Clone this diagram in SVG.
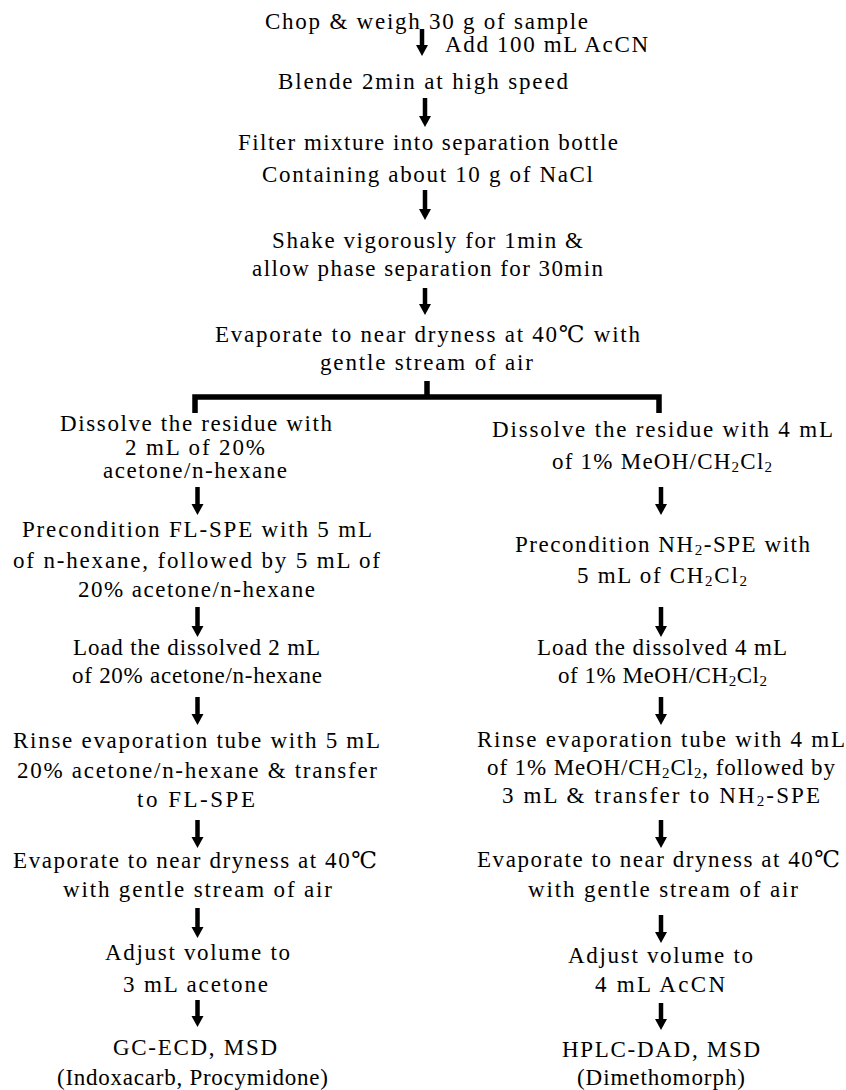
<svg xmlns="http://www.w3.org/2000/svg" width="846" height="1090" viewBox="0 0 846 1090">
<defs>
<style>
text { font-family: "Liberation Serif", "DejaVu Serif", "Noto Sans CJK KR", serif; font-size: 23px; fill: #000; }
.sub { font-size: 15px; }
.arrow { stroke: #000; stroke-width: 4.5; fill: none; marker-end: url(#ah); }
.branch { fill: none; stroke: #000; stroke-width: 5.5; stroke-linejoin: miter; }
</style>
<marker id="ah" markerUnits="userSpaceOnUse" viewBox="0 -6.5 11 13" markerWidth="11" markerHeight="13" refX="0" refY="0" orient="auto">
<path d="M0,-6 L11,0 L0,6 z" fill="#000"/>
</marker>
</defs>
<rect width="846" height="1090" fill="#fff"/>

<g id="connectors">
<line class="arrow" x1="422" y1="29" x2="422" y2="45"/>
<line class="arrow" x1="425" y1="98" x2="425" y2="116"/>
<line class="arrow" x1="425" y1="190" x2="425" y2="209"/>
<line class="arrow" x1="425" y1="288" x2="425" y2="304"/>
<path class="branch" d="M195,413 V397 H659 V413"/>
<path class="branch" d="M427,381 V397"/>
<line class="arrow" x1="197.5" y1="487" x2="197.5" y2="504"/>
<line class="arrow" x1="197.5" y1="607" x2="197.5" y2="626"/>
<line class="arrow" x1="197.5" y1="697" x2="197.5" y2="714"/>
<line class="arrow" x1="197.5" y1="820" x2="197.5" y2="837"/>
<line class="arrow" x1="197.5" y1="908" x2="197.5" y2="927"/>
<line class="arrow" x1="197.5" y1="1000" x2="197.5" y2="1016"/>
<line class="arrow" x1="661" y1="487" x2="661" y2="504"/>
<line class="arrow" x1="661" y1="607" x2="661" y2="626"/>
<line class="arrow" x1="661" y1="697" x2="661" y2="714"/>
<line class="arrow" x1="661" y1="820" x2="661" y2="837"/>
<line class="arrow" x1="661" y1="915" x2="661" y2="932"/>
<line class="arrow" x1="661" y1="1003" x2="661" y2="1019"/>
<text x="445" y="52" textLength="203" lengthAdjust="spacing">Add 100 mL AcCN</text>
</g>

<g id="n-chop">
<text x="265" y="29" textLength="323" lengthAdjust="spacing">Chop &amp; weigh 30 g of sample</text>
</g>
<g id="n-blende">
<text x="278" y="89" textLength="290" lengthAdjust="spacing">Blende 2min at high speed</text>
</g>
<g id="n-filter">
<text x="238" y="150" textLength="380" lengthAdjust="spacing">Filter mixture into separation bottle</text>
<text x="262" y="182" textLength="331" lengthAdjust="spacing">Containing about 10 g of NaCl</text>
</g>
<g id="n-shake">
<text x="272" y="248" textLength="311" lengthAdjust="spacing">Shake vigorously for 1min &amp;</text>
<text x="252" y="276" textLength="351" lengthAdjust="spacing">allow phase separation for 30min</text>
</g>
<g id="n-evap">
<text x="215" y="342" textLength="425" lengthAdjust="spacing">Evaporate to near dryness at 40℃ with</text>
<text x="320" y="370" textLength="213" lengthAdjust="spacing">gentle stream of air</text>
</g>

<g id="l-dissolve">
<text x="60" y="431" textLength="272" lengthAdjust="spacing">Dissolve the residue with</text>
<text x="125" y="455" textLength="140" lengthAdjust="spacing">2 mL of 20%</text>
<text x="103" y="478" textLength="184" lengthAdjust="spacing">acetone/n-hexane</text>
</g>
<g id="l-precondition">
<text x="22" y="537" textLength="350" lengthAdjust="spacing">Precondition FL-SPE with 5 mL</text>
<text x="13" y="568" textLength="367" lengthAdjust="spacing">of n-hexane, followed by 5 mL of</text>
<text x="78" y="597" textLength="237" lengthAdjust="spacing">20% acetone/n-hexane</text>
</g>
<g id="l-load">
<text x="73" y="655" textLength="247" lengthAdjust="spacing">Load the dissolved 2 mL</text>
<text x="72" y="683" textLength="250" lengthAdjust="spacing">of 20% acetone/n-hexane</text>
</g>
<g id="l-rinse">
<text x="13" y="748" textLength="367" lengthAdjust="spacing">Rinse evaporation tube with 5 mL</text>
<text x="17" y="778" textLength="360" lengthAdjust="spacing">20% acetone/n-hexane &amp; transfer</text>
<text x="137" y="807" textLength="118" lengthAdjust="spacing">to FL-SPE</text>
</g>
<g id="l-evap">
<text x="13" y="868" textLength="364" lengthAdjust="spacing">Evaporate to near dryness at 40℃</text>
<text x="63" y="897" textLength="269" lengthAdjust="spacing">with gentle stream of air</text>
</g>
<g id="l-adjust">
<text x="105" y="960" textLength="185" lengthAdjust="spacing">Adjust volume to</text>
<text x="123" y="992" textLength="145" lengthAdjust="spacing">3 mL acetone</text>
</g>
<g id="l-gc">
<text x="113" y="1055" textLength="164" lengthAdjust="spacing">GC-ECD, MSD</text>
<text x="57" y="1085" textLength="271" lengthAdjust="spacing">(Indoxacarb, Procymidone)</text>
</g>

<g id="r-dissolve">
<text x="492" y="437" textLength="341" lengthAdjust="spacing">Dissolve the residue with 4 mL</text>
<text x="552" y="469" textLength="220" lengthAdjust="spacing">of 1% MeOH/CH<tspan class="sub" dy="3">2</tspan><tspan dy="-3">Cl</tspan><tspan class="sub" dy="3">2</tspan></text>
</g>
<g id="r-precondition">
<text x="515" y="552" textLength="295" lengthAdjust="spacing">Precondition NH<tspan class="sub" dy="3">2</tspan><tspan dy="-3">-SPE with</tspan></text>
<text x="577" y="583" textLength="170" lengthAdjust="spacing">5 mL of CH<tspan class="sub" dy="3">2</tspan><tspan dy="-3">Cl</tspan><tspan class="sub" dy="3">2</tspan></text>
</g>
<g id="r-load">
<text x="537" y="655" textLength="250" lengthAdjust="spacing">Load the dissolved 4 mL</text>
<text x="558" y="683" textLength="209" lengthAdjust="spacing">of 1% MeOH/CH<tspan class="sub" dy="3">2</tspan><tspan dy="-3">Cl</tspan><tspan class="sub" dy="3">2</tspan></text>
</g>
<g id="r-rinse">
<text x="477" y="747" textLength="368" lengthAdjust="spacing">Rinse evaporation tube with 4 mL</text>
<text x="487" y="775" textLength="348" lengthAdjust="spacing">of 1% MeOH/CH<tspan class="sub" dy="3">2</tspan><tspan dy="-3">Cl</tspan><tspan class="sub" dy="3">2</tspan><tspan dy="-3">, followed by</tspan></text>
<text x="502" y="803" textLength="318" lengthAdjust="spacing">3 mL &amp; transfer to NH<tspan class="sub" dy="3">2</tspan><tspan dy="-3">-SPE</tspan></text>
</g>
<g id="r-evap">
<text x="477" y="867" textLength="363" lengthAdjust="spacing">Evaporate to near dryness at 40℃</text>
<text x="528" y="897" textLength="270" lengthAdjust="spacing">with gentle stream of air</text>
</g>
<g id="r-adjust">
<text x="568" y="963" textLength="185" lengthAdjust="spacing">Adjust volume to</text>
<text x="595" y="992" textLength="130" lengthAdjust="spacing">4 mL AcCN</text>
</g>
<g id="r-hplc">
<text x="562" y="1057" textLength="198" lengthAdjust="spacing">HPLC-DAD, MSD</text>
<text x="577" y="1085" textLength="168" lengthAdjust="spacing">(Dimethomorph)</text>
</g>
</svg>
